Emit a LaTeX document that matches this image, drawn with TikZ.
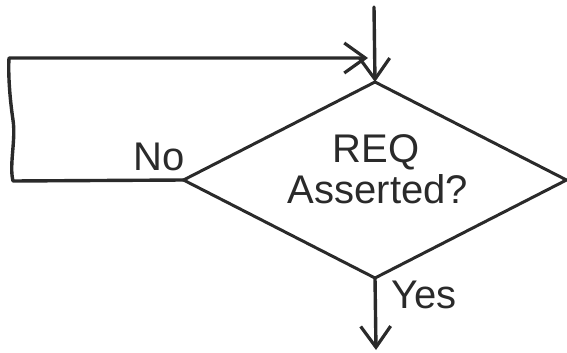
\documentclass[tikz,border=0pt]{standalone}
\usepackage{fontspec}
\setmainfont{Liberation Sans}
\usetikzlibrary{shapes.geometric,arrows.meta}
\definecolor{ink}{HTML}{2A2A2A}
\begin{document}
\begin{tikzpicture}[x=1pt,y=-1pt,
  flow/.style={draw=ink, line width=3.4pt, line cap=round, line join=round},
  tip/.style={-{Straight Barb[length=21pt,width=30pt,line width=3.2pt]}},
  lbl/.style={text=ink, font=\fontsize{40}{41}\selectfont, inner sep=0pt, anchor=base},
  decision/.style={shape=diamond, draw=ink, line width=3pt, line join=miter,
    minimum width=383pt, minimum height=196pt, inner sep=0pt, outer sep=0pt}]
\useasboundingbox (0,0) rectangle (567,353);
% decision box and its text
\node[decision] (dec) at (375,180) {};
\node[lbl] (req) at (376,162) {REQ};
\node[lbl] (ask) at (378,203) {Asserted?};
\node[lbl, anchor=base west] (no) at (133,170) {No};
\node[lbl, anchor=base west] (yes) at (391,308) {Yes};
% connector end points
\coordinate (entry) at (374,7);
\coordinate (back) at (368,58);
\coordinate (out) at (376,350);
% flow lines
\draw[flow,tip] (entry) -- (dec.north);
\draw[flow,tip] (dec.south) -- (out);
\draw[flow,tip] (dec.west) -- (13,181)
  .. controls (9,165) and (16,140) .. (13,120)
  .. controls (10,100) and (8,75) .. (9,58) -- (back);
\end{tikzpicture}
\end{document}
